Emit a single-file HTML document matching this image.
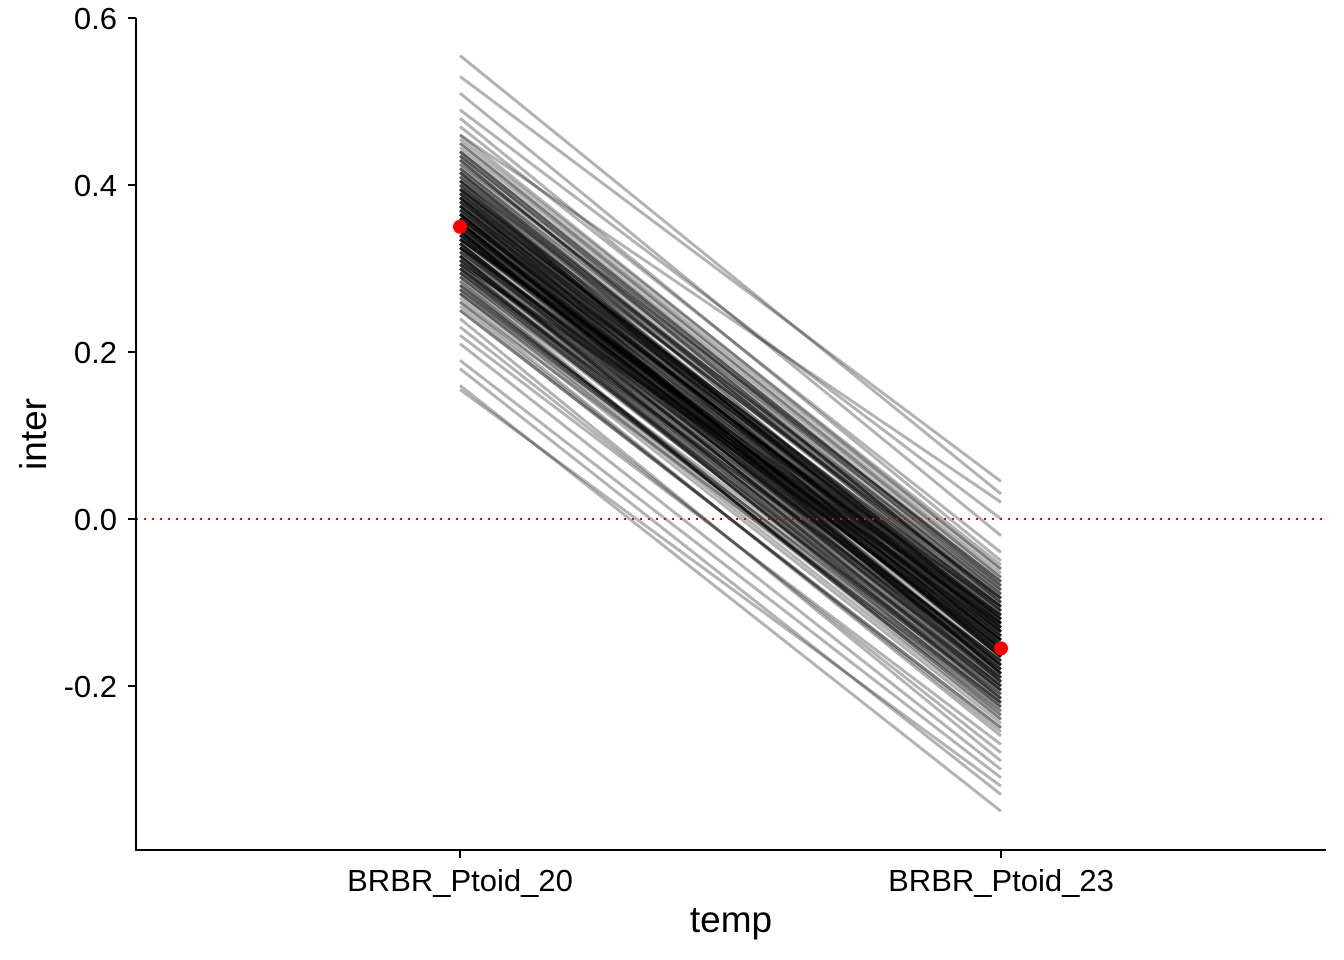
<!DOCTYPE html>
<html><head><meta charset="utf-8"><style>
html,body{margin:0;padding:0;background:#fff;}
svg{display:block;font-family:"Liberation Sans",sans-serif;}
</style></head><body>
<svg id="chart" width="1344" height="960">
<g id="lines"></g>
<line x1="136" y1="519" x2="1326" y2="519" stroke="#ff0000" stroke-width="2" stroke-dasharray="2,6"/>
<g id="points"></g>
<g id="axes">
<line x1="136" y1="18" x2="136" y2="851" stroke="#000" stroke-width="2"/>
<line x1="135" y1="850" x2="1326" y2="850" stroke="#000" stroke-width="2"/>
</g>
<text x="731" y="932" style="font-size:37px" text-anchor="middle">temp</text>
<text transform="translate(46,434) rotate(-90)" style="font-size:37px" text-anchor="middle">inter</text>
</svg>
<script>
const categories = ["BRBR_Ptoid_20","BRBR_Ptoid_23"];
const yTicks = [-0.2,0.0,0.2,0.4,0.6];
const yTickLabels = ["-0.2","0.0","0.2","0.4","0.6"];
const meanValues = [0.35,-0.155];
const startValues = [0.35,0.41,0.29,0.37,0.33,0.44,0.26,0.39,0.31,0.36,0.48,0.22,0.34,0.38,0.30,0.42,0.27,0.35,0.40,0.32,0.46,0.24,0.37,0.33,0.39,0.28,0.43,0.31,0.36,0.34,0.51,0.19,0.38,0.30,0.41,0.35,0.25,0.45,0.33,0.37,0.29,0.40,0.32,0.36,0.47,0.23,0.34,0.39,0.31,0.43,0.27,0.35,0.38,0.30,0.44,0.26,0.36,0.33,0.40,0.28,0.53,0.16,0.37,0.32,0.42,0.34,0.29,0.39,0.35,0.31,0.46,0.21,0.38,0.33,0.41,0.27,0.36,0.34,0.44,0.30,0.49,0.18,0.35,0.40,0.32,0.37,0.28,0.43,0.33,0.36,0.555,0.155,0.39,0.31,0.45,0.25,0.34,0.38,0.30,0.42,
0.345,0.365,0.325,0.385,0.305,0.405,0.355,0.335,0.375,0.315,0.395,0.295,0.415,0.275,0.435,0.365,0.345,0.325,0.385,0.355,0.335,0.375,0.305,0.405,0.285,0.425,0.365,0.315,0.395,0.345,0.355,0.325,0.385,0.295,0.415,0.335,0.375,0.265,0.445,0.365,0.345,0.305,0.405,0.355,0.325,0.385,0.315,0.395,0.275,0.435,0.355,0.335,0.375,0.365,0.345,0.295,0.415,0.325,0.385,0.305,0.405,0.355,0.335,0.365,0.285,0.425,0.345,0.375,0.315,0.395,0.355,0.325,0.385,0.345,0.365,0.305,0.405,0.255,0.455,0.335,0.375,0.355,0.315,0.395,0.345,0.365,0.295,0.415,0.325,0.385,0.355,0.335,0.375,0.275,0.435,0.365,0.345,0.315,0.395,0.355];
const endValues = [-0.15,-0.10,-0.20,-0.13,-0.17,-0.08,-0.22,-0.12,-0.19,-0.16,-0.05,-0.27,-0.14,-0.11,-0.21,-0.09,-0.24,-0.18,-0.13,-0.15,-0.06,-0.29,-0.12,-0.20,-0.14,-0.23,-0.10,-0.17,-0.16,-0.19,-0.02,-0.31,-0.11,-0.22,-0.12,-0.14,-0.25,-0.07,-0.18,-0.13,-0.21,-0.15,-0.17,-0.12,-0.04,-0.28,-0.16,-0.13,-0.20,-0.09,-0.23,-0.15,-0.11,-0.19,-0.08,-0.26,-0.14,-0.18,-0.10,-0.22,0.045,-0.35,-0.13,-0.17,-0.11,-0.16,-0.24,-0.12,-0.15,-0.20,0.02,-0.30,-0.14,-0.19,-0.09,-0.21,-0.13,-0.16,-0.07,-0.18,0.0,-0.33,-0.15,-0.12,-0.19,-0.14,-0.22,-0.10,-0.17,-0.13,0.03,-0.32,-0.11,-0.18,-0.06,-0.25,-0.16,-0.12,-0.20,-0.08,
-0.185,-0.125,-0.155,-0.105,-0.205,-0.135,-0.165,-0.115,-0.145,-0.215,-0.095,-0.175,-0.125,-0.225,-0.085,-0.155,-0.195,-0.145,-0.105,-0.175,-0.135,-0.185,-0.115,-0.165,-0.235,-0.075,-0.145,-0.205,-0.125,-0.155,-0.175,-0.135,-0.195,-0.215,-0.095,-0.155,-0.115,-0.245,-0.065,-0.165,-0.185,-0.125,-0.105,-0.145,-0.195,-0.135,-0.175,-0.095,-0.225,-0.085,-0.165,-0.145,-0.115,-0.185,-0.135,-0.205,-0.105,-0.175,-0.155,-0.215,-0.095,-0.165,-0.125,-0.145,-0.235,-0.075,-0.175,-0.115,-0.205,-0.135,-0.145,-0.195,-0.105,-0.185,-0.125,-0.225,-0.085,-0.255,-0.055,-0.165,-0.135,-0.155,-0.195,-0.115,-0.175,-0.125,-0.215,-0.095,-0.155,-0.145,-0.185,-0.105,-0.135,-0.205,-0.075,-0.165,-0.145,-0.185,-0.125,-0.155];

const NS = "http://www.w3.org/2000/svg";
function yScale(v){ return 519 - v * 835; }
function xScale(i){ return 460 + i * 541; }
const lg = document.getElementById('lines');
for (let i = 0; i < startValues.length; i++) {
  const l = document.createElementNS(NS, 'line');
  l.setAttribute('x1', xScale(0)); l.setAttribute('y1', yScale(startValues[i]));
  l.setAttribute('x2', xScale(1)); l.setAttribute('y2', yScale(endValues[i]));
  l.setAttribute('stroke', '#000'); l.setAttribute('stroke-width', '3'); l.setAttribute('stroke-opacity', '0.3');
  
  
  lg.appendChild(l);
}
const pg = document.getElementById('points');
meanValues.forEach((v, i) => {
  const c = document.createElementNS(NS, 'circle');
  c.setAttribute('cx', xScale(i)); c.setAttribute('cy', yScale(v)); c.setAttribute('r', '7'); c.setAttribute('fill', '#ff0000');
  
  
  pg.appendChild(c);
});
const ax = document.getElementById('axes');
yTicks.forEach((v, i) => {
  const y = yScale(v);
  const t = document.createElementNS(NS, 'line');
  t.setAttribute('x1', 128); t.setAttribute('x2', 136); t.setAttribute('y1', y); t.setAttribute('y2', y);
  t.setAttribute('stroke', '#000'); t.setAttribute('stroke-width', '2');
  
  
  ax.appendChild(t);
  const tx = document.createElementNS(NS, 'text');
  tx.setAttribute('x', 117); tx.setAttribute('y', y + 11); tx.setAttribute('style', 'font-size:31px'); tx.setAttribute('text-anchor', 'end');
  tx.textContent = yTickLabels[i];
  
  
  ax.appendChild(tx);
});
categories.forEach((c, i) => {
  const x = xScale(i);
  const t = document.createElementNS(NS, 'line');
  t.setAttribute('x1', x); t.setAttribute('x2', x); t.setAttribute('y1', 850); t.setAttribute('y2', 858);
  t.setAttribute('stroke', '#000'); t.setAttribute('stroke-width', '2');
  
  
  ax.appendChild(t);
  const tx = document.createElementNS(NS, 'text');
  tx.setAttribute('x', x); tx.setAttribute('y', 891); tx.setAttribute('style', 'font-size:31px'); tx.setAttribute('text-anchor', 'middle');
  tx.textContent = c;
  
  
  ax.appendChild(tx);
});
</script>
</body></html>
